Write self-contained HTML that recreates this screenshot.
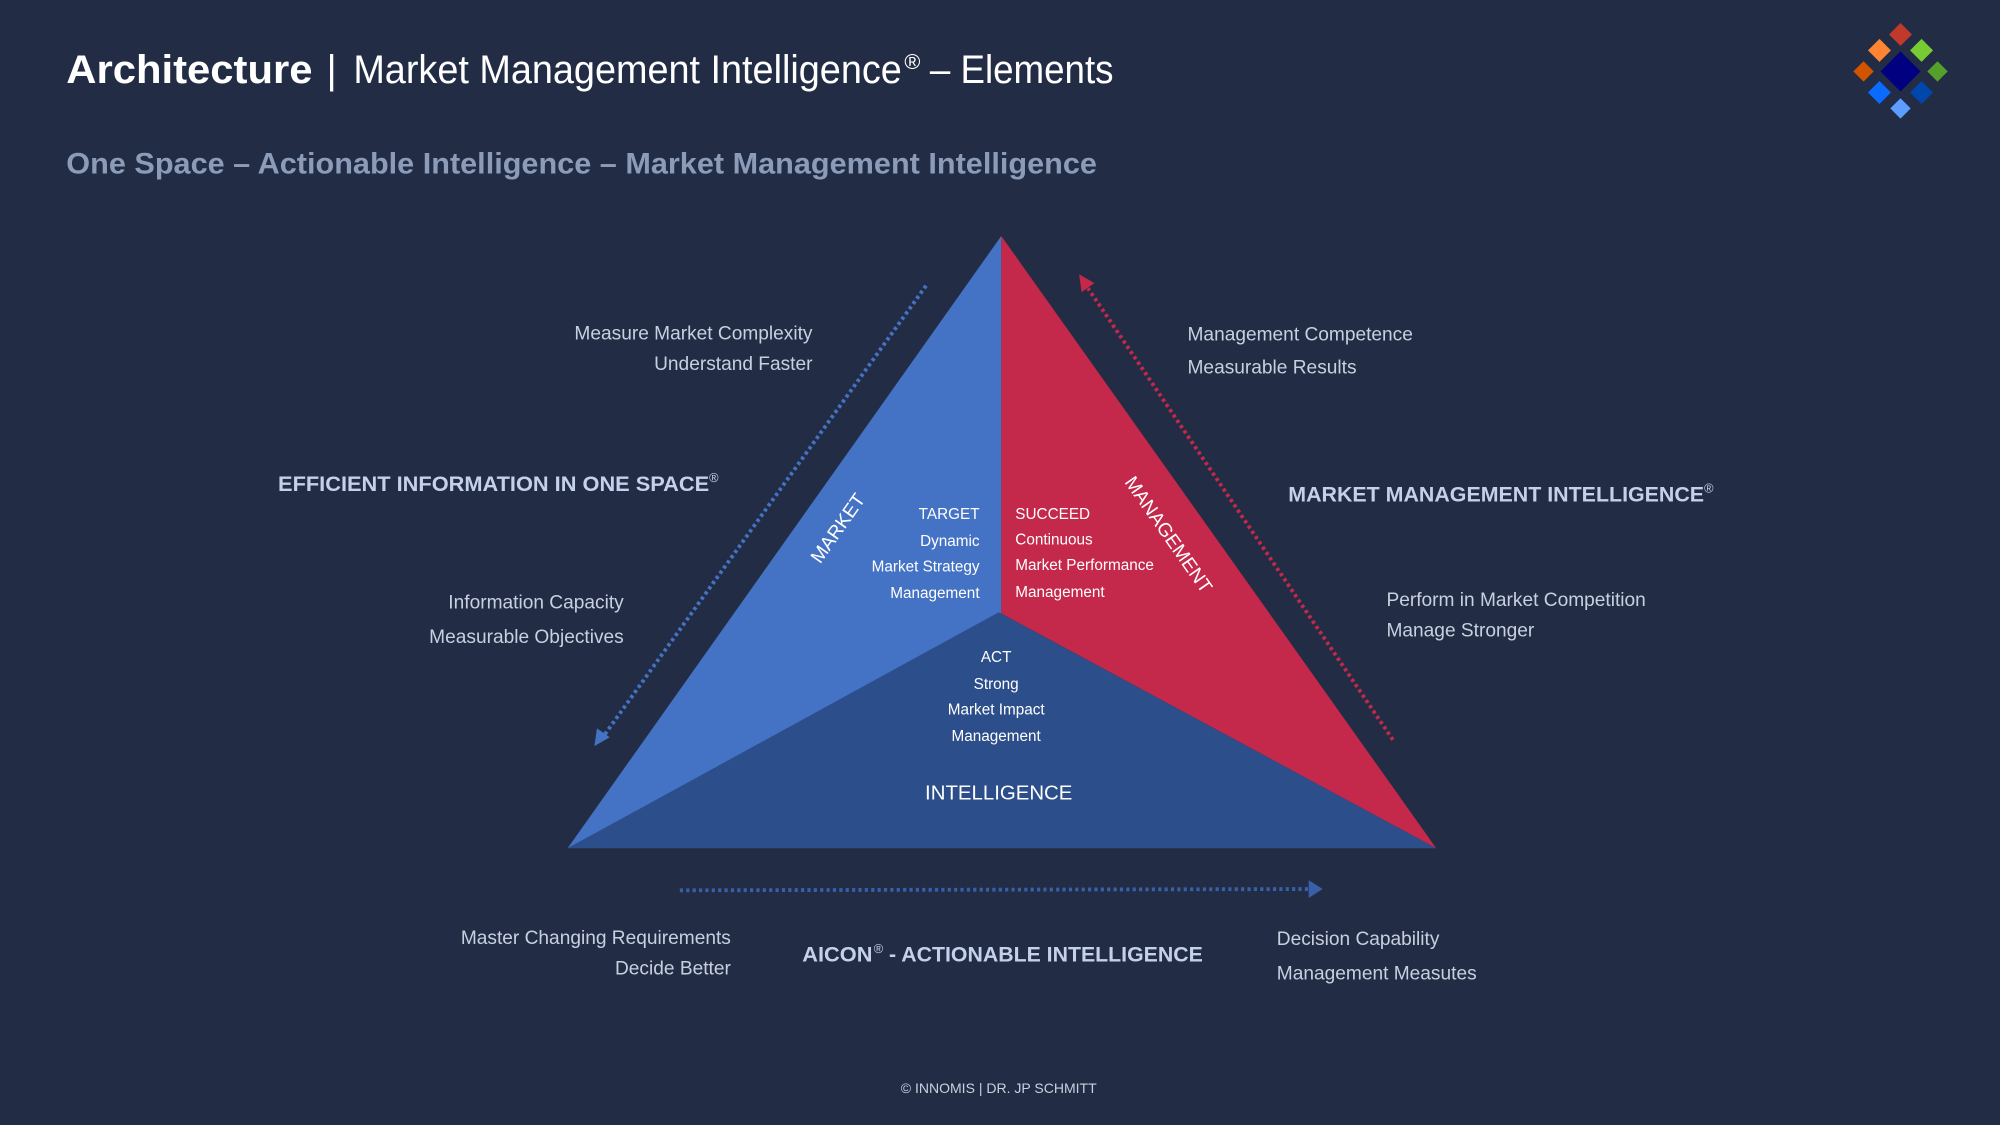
<!DOCTYPE html>
<html><head><meta charset="utf-8"><style>
html,body{margin:0;padding:0;background:#222d45;}
svg{display:block;}
text{font-family:"Liberation Sans",sans-serif;}
</style></head><body>
<svg width="2000" height="1125" viewBox="0 0 1568 882" xmlns="http://www.w3.org/2000/svg">
<rect width="1568" height="882" fill="#222d45"/>
<text x="52" y="65" font-size="31" font-weight="bold" fill="#fff" textLength="193" lengthAdjust="spacingAndGlyphs">Architecture</text>
<text x="256" y="65" font-size="31" fill="#fff">|</text>
<text x="277" y="65" font-size="31" fill="#fff" textLength="430" lengthAdjust="spacingAndGlyphs">Market Management Intelligence</text>
<text x="709" y="54" font-size="17" fill="#fff">®</text>
<text x="729" y="65" font-size="31" fill="#fff" textLength="144" lengthAdjust="spacingAndGlyphs">– Elements</text>
<text x="52" y="136" font-size="23" font-weight="bold" fill="#8b9bb8" textLength="808" lengthAdjust="spacingAndGlyphs">One Space – Actionable Intelligence – Market Management Intelligence</text>
<!-- logo -->
<g transform="translate(1490,56)">
<polygon points="0,-15.7 15.7,0 0,15.7 -15.7,0" fill="#000080"/>
<polygon points="0,-9 9,0 0,9 -9,0" fill="#c0392b" transform="translate(0,-29)"/>
<polygon points="0,-9 9,0 0,9 -9,0" fill="#ff8533" transform="translate(-16.5,-16.5)"/>
<polygon points="0,-9 9,0 0,9 -9,0" fill="#77cc33" transform="translate(16.5,-16.5)"/>
<polygon points="0,-8 8,0 0,8 -8,0" fill="#d35400" transform="translate(-29,0)"/>
<polygon points="0,-8 8,0 0,8 -8,0" fill="#55a02a" transform="translate(29,0)"/>
<polygon points="0,-9 9,0 0,9 -9,0" fill="#0a6cff" transform="translate(-16.5,16.5)"/>
<polygon points="0,-9 9,0 0,9 -9,0" fill="#0047ab" transform="translate(16.5,16.5)"/>
<polygon points="0,-8 8,0 0,8 -8,0" fill="#5c9dff" transform="translate(0,29)"/>
</g>
<!-- triangle -->
<polygon points="785,185 445,665 785,481" fill="#4472c4"/>
<polygon points="785,185 785,481 1126,665" fill="#c4284a"/>
<polygon points="445,665 783,480 1126,665" fill="#2c4e8a"/>
<!-- arrows -->
<line x1="726" y1="224" x2="474" y2="576" stroke="#4472c4" stroke-width="3" stroke-dasharray="2.5 2.5"/>
<polygon points="466,585 468,571 478,578" fill="#4472c4"/>
<line x1="1092" y1="580" x2="853" y2="226" stroke="#c4284a" stroke-width="3" stroke-dasharray="2.5 2.5"/>
<polygon points="846,215 858,222 848,229" fill="#c4284a"/>
<line x1="533" y1="698" x2="1027" y2="697" stroke="#3a5ea8" stroke-width="3" stroke-dasharray="2.5 2.5"/>
<polygon points="1037,697 1026,690 1026,704" fill="#3a5ea8"/>
<!-- inner text -->
<g font-size="12" fill="#fff">
<g text-anchor="end">
<text x="768" y="407">TARGET</text><text x="768" y="428">Dynamic</text><text x="768" y="448">Market Strategy</text><text x="768" y="469">Management</text>
</g>
<text x="796" y="407">SUCCEED</text><text x="796" y="427">Continuous</text><text x="796" y="447">Market Performance</text><text x="796" y="468">Management</text>
<g text-anchor="middle">
<text x="781" y="519">ACT</text><text x="781" y="540">Strong</text><text x="781" y="560">Market Impact</text><text x="781" y="581">Management</text>
</g>
</g>
<text x="783" y="627" font-size="16" fill="#fff" text-anchor="middle">INTELLIGENCE</text>
<text transform="translate(661,417) rotate(-55)" font-size="15" fill="#fff" text-anchor="middle">MARKET</text>
<text transform="translate(912,422) rotate(55)" font-size="15" fill="#fff" text-anchor="middle">MANAGEMENT</text>
<!-- side labels -->
<g font-size="15" fill="#c8d0e0">
<g text-anchor="end">
<text x="637" y="266">Measure Market Complexity</text><text x="637" y="290">Understand Faster</text>
<text x="489" y="477">Information Capacity</text><text x="489" y="504">Measurable Objectives</text>
<text x="573" y="740">Master Changing Requirements</text><text x="573" y="764">Decide Better</text>
</g>
<text x="931" y="267">Management Competence</text><text x="931" y="293">Measurable Results</text>
<text x="1087" y="475">Perform in Market Competition</text><text x="1087" y="499">Manage Stronger</text>
<text x="1001" y="741">Decision Capability</text><text x="1001" y="768">Management Measutes</text>
</g>
<g font-size="17" font-weight="bold" fill="#c5d0ea">
<text x="218" y="385" textLength="338" lengthAdjust="spacingAndGlyphs">EFFICIENT INFORMATION IN ONE SPACE</text>
<text x="556" y="378" font-size="10" font-weight="normal">®</text>
<text x="1010" y="393" textLength="326" lengthAdjust="spacingAndGlyphs">MARKET MANAGEMENT INTELLIGENCE</text>
<text x="1336" y="386" font-size="10" font-weight="normal">®</text>
<text x="629" y="754" textLength="55" lengthAdjust="spacingAndGlyphs">AICON</text>
<text x="685" y="747" font-size="10" font-weight="normal">®</text>
<text x="697" y="754" textLength="246" lengthAdjust="spacingAndGlyphs">- ACTIONABLE INTELLIGENCE</text>
</g>
<text x="783" y="857" font-size="11" fill="#c8d0e0" text-anchor="middle">© INNOMIS | DR. JP SCHMITT</text>
</svg>
</body></html>
